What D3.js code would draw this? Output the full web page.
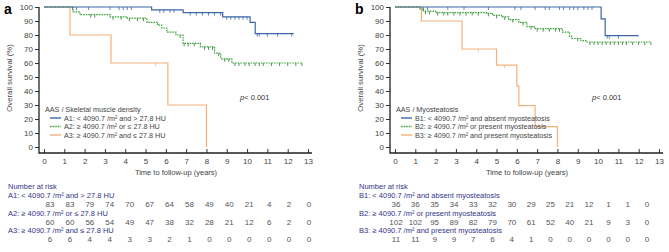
<!DOCTYPE html>
<html>
<head>
<meta charset="utf-8">
<script src="https://cdn.jsdelivr.net/npm/d3@7"></script>
<style>
  body { margin: 0; background: #fff; }
  text { font-family: "Liberation Sans", Arial, sans-serif; }
</style>
</head>
<body>
<script>
var W = 669, H = 252;

// axis ticks
var timeTicks = [0,1,2,3,4,5,6,7,8,9,10,11,12,13];
var survTicks = [0,10,20,30,40,50,60,70,80,90,100];

// panel a: AAS / skeletal muscle density  [time, survival %]
var a1Steps = [[0,100],[5.3,98],[6.85,96],[8.8,93],[10.15,89],[10.4,81],[12.3,81]];
var a2Steps = [[0,100],[1.43,96.5],[1.77,94.5],[3.25,93],[4.1,92],[5.07,89],[5.6,87],[5.8,85],[6.05,82],[6.5,80],[6.85,74],[7.7,71.5],[8.4,67],[8.7,63],[9.25,60],[12.7,60]];
var a3Steps = [[0,100],[1.28,80],[3.3,60],[6.1,30],[8.0,0]];
var a1Cens = [1.4,1.6,2.2,3.25,3.7,3.9,4.1,4.3,5.7,5.9,6.2,6.4,7.2,7.5,7.8,8.1,8.4,8.7,9.0,9.2,9.4,9.6,9.8,10.0,10.5,10.6,11.0,11.5,12.2];
var a2Cens = [2.3,2.5,3.4,3.8,4.2,4.6,4.9,6.7,6.9,7.1,7.4,7.9,8.1,8.3,8.6,8.9,9.1,9.4,9.6,9.9,10.1,10.4,10.6,10.8,11.2,11.6,12.0,12.4,12.7];
var a3Cens = [5.5];
var aLabels = ["A1: < 4090.7 /m\u00b2 and > 27.8 HU", "A2: \u2265 4090.7 /m\u00b2 or \u2264 27.8 HU", "A3: \u2265 4090.7 /m\u00b2 and \u2264 27.8 HU"];
var a1Risk = [83,83,79,74,70,67,64,58,49,40,21,4,2,0];
var a2Risk = [60,60,56,54,49,47,38,32,28,21,12,6,2,0];
var a3Risk = [6,6,4,4,3,3,2,1,0,0,0,0,0,0];

// panel b: AAS / myosteatosis
var b1Steps = [[0,100],[10.15,91.5],[10.35,79.5],[12.0,79.5]];
var b2Steps = [[0,100],[1.23,98.5],[1.4,97],[2.0,96],[4.5,95.5],[4.8,94],[5.25,93],[5.6,91],[6.1,89],[6.5,86],[6.85,84.5],[8.25,82],[8.6,79],[8.7,77.5],[9.15,76],[9.4,75],[12.6,75]];
var b3Steps = [[0,100],[1.3,90],[3.3,70],[5.0,58.5],[6.0,43.5],[6.1,29.5],[6.9,14.5],[8.0,0]];
var b1Cens = [1.4,1.6,2.6,3.4,4.6,5.9,6.2,6.9,7.4,7.6,8.1,8.3,8.6,8.8,9.0,9.3,9.5,9.7,10.45,10.55,11.0];
var b2Cens = [1.5,1.7,2.1,2.4,2.6,2.9,3.2,3.5,3.8,4.1,4.6,5.0,5.4,5.8,6.3,6.7,7.0,7.3,7.6,7.9,8.1,9.0,9.6,9.8,10.0,10.2,10.4,10.6,10.8,11.0,11.2,11.4,11.7,12.0,12.3,12.6];
var b3Cens = [4.1,5.4];
var bLabels = ["B1: < 4090.7 /m\u00b2 and absent myosteatosis", "B2: \u2265 4090.7 /m\u00b2 or present myosteatosis", "B3: \u2265 4090.7 /m\u00b2 and present myosteatosis"];
var b1Risk = [36,36,35,34,33,32,30,29,25,21,12,1,1,0];
var b2Risk = [102,102,95,89,82,79,70,61,52,40,21,9,3,0];
var b3Risk = [11,11,9,9,7,6,4,1,0,0,0,0,0,0];

var colors = ["#3b67a6", "#3aa53a", "#f3b27c"];
var dashes = [null, "1.6,1", null];

var svg = d3.select("body").append("svg")
  .attr("width", W).attr("height", H);
svg.append("rect").attr("width", W).attr("height", H).attr("fill", "#fff");

function drawPanel(p) {
  var g = svg.append("g").attr("transform", "translate(" + p.dx + ",0)");
  var x = d3.scaleLinear().domain([0, 13]).range([44, 308]);
  var y = d3.scaleLinear().domain([0, 100]).range([147, 7]);
  var axisY = 153, axisX = 39;
  var rx = d3.scaleLinear().domain([0, 13]).range(p.riskRange);

  // panel letter
  g.append("text").attr("x", 4).attr("y", 14)
    .attr("font-family", "Liberation Serif, serif").attr("font-weight", "bold")
    .attr("font-size", 14).text(p.letter);

  // y axis
  var ya = g.append("g").attr("transform", "translate(" + axisX + ",0)")
    .call(d3.axisLeft(y).tickValues(survTicks).tickSize(4).tickPadding(2).tickSizeOuter(0));
  ya.select(".domain").remove();
  ya.selectAll("text").attr("font-size", 8).attr("fill", "#444").style("font-family", "Liberation Sans, Arial, sans-serif");
  ya.selectAll("line").attr("stroke", "#333");

  // x axis
  var xa = g.append("g").attr("transform", "translate(0," + axisY + ")")
    .call(d3.axisBottom(x).tickValues(timeTicks).tickSize(-4).tickPadding(5));
  xa.select(".domain").remove();
  xa.selectAll("text").attr("font-size", 8).attr("fill", "#444").style("font-family", "Liberation Sans, Arial, sans-serif");
  xa.selectAll("line").attr("stroke", "#333");

  g.append("path")
    .attr("d", "M" + axisX + "," + y(100) + "V" + axisY + "H" + (x(13) + 4))
    .attr("fill", "none").attr("stroke", "#222").attr("stroke-width", 1.3);

  g.append("text").attr("transform", "translate(12," + 78 + ") rotate(-90)")
    .attr("text-anchor", "middle").attr("font-size", 7.8).attr("fill", "#444")
    .text("Overall survival (%)");
  g.append("text").attr("x", (x(0) + x(13)) / 2).attr("y", 175)
    .attr("text-anchor", "middle").attr("font-size", 7.5).attr("fill", "#444")
    .text("Time to follow-up (years)");

  // curves
  var line = d3.line().x(function(d){ return x(d[0]); }).y(function(d){ return y(d[1]); })
    .curve(d3.curveStepAfter);
  var bis = d3.bisector(function(d){ return d[0]; }).right;
  [2, 1, 0].forEach(function(i) {
    var steps = p.steps[i];
    g.append("path").attr("d", line(steps))
      .attr("fill", "none").attr("stroke", colors[i]).attr("stroke-width", 1.2)
      .attr("stroke-dasharray", dashes[i]);
    g.selectAll(null).data(p.cens[i]).enter().append("line")
      .attr("x1", function(t){ return x(t); }).attr("x2", function(t){ return x(t); })
      .attr("y1", function(t){ return y(steps[bis(steps, t) - 1][1]); })
      .attr("y2", function(t){ return y(steps[bis(steps, t) - 1][1]) + 3; })
      .attr("stroke", i === 1 ? "#2f7a2f" : colors[i]).attr("stroke-width", 0.8);
  });

  // p value
  var pt = g.append("text").attr("x", p.px).attr("y", 100).attr("font-size", 7.5).attr("fill", "#333");
  pt.append("tspan").attr("font-style", "italic").text("p");
  pt.append("tspan").text("< 0.001");

  // legend
  var lg = g.append("g").attr("transform", "translate(45,112)");
  lg.append("text").attr("x", 0).attr("y", 0).attr("font-size", 7.2).attr("fill", "#444").text(p.legendTitle);
  p.labels.forEach(function(lab, i) {
    var ly = 8.5 * (i + 1) - 2.5;
    lg.append("line").attr("x1", 5).attr("x2", 16).attr("y1", ly).attr("y2", ly)
      .attr("stroke", colors[i]).attr("stroke-width", 1.4).attr("stroke-dasharray", dashes[i]);
    lg.append("text").attr("x", 19).attr("y", ly + 2.5).attr("font-size", 7.2).attr("fill", "#444").text(lab);
  });

  // number at risk table
  var navy = "#34348a";
  g.append("text").attr("x", 8).attr("y", 189).attr("font-size", 7.5).attr("fill", navy).text("Number at risk");
  p.labels.forEach(function(lab, i) {
    var ry = 198 + i * 17.5;
    g.append("text").attr("x", 8).attr("y", ry).attr("font-size", 7.5).attr("fill", navy).text(lab);
    g.selectAll(null).data(p.risk[i]).enter().append("text")
      .attr("x", function(d, j){ return rx(timeTicks[j]); })
      .attr("y", ry + 9).attr("text-anchor", "middle").attr("font-size", 8).attr("fill", "#555")
      .text(function(d){ return d; });
  });
}

drawPanel({ dx: 0, letter: "a", legendTitle: "AAS / Skeletal muscle density",
  steps: [a1Steps, a2Steps, a3Steps], cens: [a1Cens, a2Cens, a3Cens],
  labels: aLabels, risk: [a1Risk, a2Risk, a3Risk], riskRange: [50, 309], px: 240 });
drawPanel({ dx: 351, letter: "b", legendTitle: "AAS / Myosteatosis",
  steps: [b1Steps, b2Steps, b3Steps], cens: [b1Cens, b2Cens, b3Cens],
  labels: bLabels, risk: [b1Risk, b2Risk, b3Risk], riskRange: [45, 296], px: 241 });
</script>
</body>
</html>
